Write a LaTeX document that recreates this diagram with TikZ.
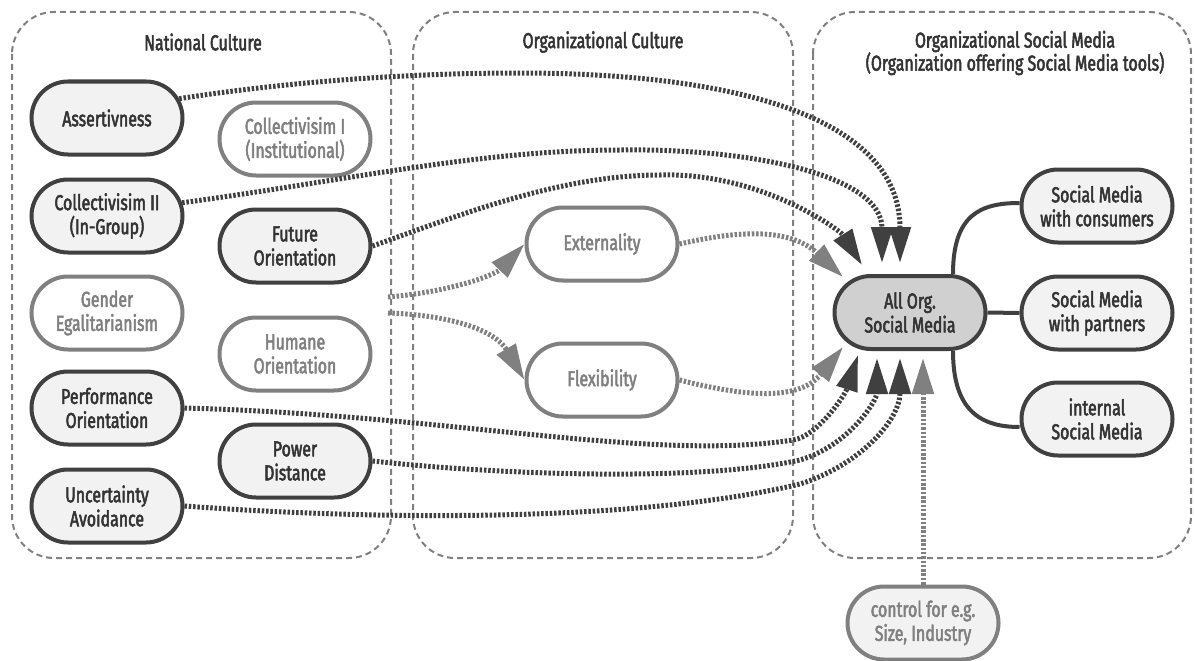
\documentclass[tikz,border=0pt]{standalone}
\usepackage{fontspec}
\setmainfont{Fira Sans}[FakeStretch=0.74,FakeBold=2.4]
\usetikzlibrary{arrows.meta,shapes.misc}
\definecolor{dk}{HTML}{404040}
\definecolor{gr}{HTML}{808080}
\definecolor{lt}{HTML}{F2F2F2}
\definecolor{mid}{HTML}{D0D0D0}
\definecolor{txt}{HTML}{333333}
\tikzset{
  pill/.style={rounded rectangle, line width=4pt, minimum width=151pt, minimum height=73pt,
    inner sep=0pt, align=center, font=\fontsize{21.5}{24}\selectfont},
  darkpill/.style={pill, draw=dk, fill=lt, text=txt},
  graypill/.style={pill, draw=gr, fill=white, text=gr},
  container/.style={draw=gr, line width=2pt, dash pattern=on 6pt off 4pt, rounded corners=42pt},
  ttl/.style={text=txt, align=center, font=\fontsize{21.5}{23}\selectfont},
  dkarrow/.style={draw=dk, line width=5pt, dash pattern=on 2.5pt off 1.8pt,
    -{Triangle[length=36pt,width=21pt]}},
  grarrow/.style={dkarrow, draw=gr},
  solidc/.style={draw=dk, line width=4pt}
}
\begin{document}
\begin{tikzpicture}[x=1pt,y=-1pt]
\useasboundingbox (0,0) rectangle (1194,661);
% containers
\draw[container] (12,12) rectangle (391,558);
\draw[container] (413,12) rectangle (793,558);
\draw[container] (813,12) rectangle (1191,558);
\node[ttl] (t1) at (203,42) {National Culture};
\node[ttl] (t2) at (603,42) {Organizational Culture};
\node[ttl] (t3) at (1015,53) {Organizational Social Media\\(Organization offering Social Media tools)};
% national culture
\node[darkpill] (ass) at (107,118) {Assertivness};
\node[graypill] (col1) at (295,139) {Collectivisim I\\(Institutional)};
\node[darkpill] (col2) at (107,216) {Collectivisim II\\(In-Group)};
\node[darkpill] (fut) at (295,246) {Future\\Orientation};
\node[graypill] (gen) at (107,313) {Gender\\Egalitarianism};
\node[graypill] (hum) at (295,354) {Humane\\Orientation};
\node[darkpill] (perf) at (107,408) {Performance\\Orientation};
\node[darkpill] (pow) at (295,461) {Power\\Distance};
\node[darkpill] (unc) at (107,506) {Uncertainty\\Avoidance};
% org culture
\node[graypill] (ext) at (602,244) {Externality};
\node[graypill] (flex) at (602,380) {Flexibility};
% social media
\node[pill, draw=dk, fill=mid, text=txt] (all) at (910,312.5) {All Org.\\Social Media};
\node[darkpill] (cons) at (1097,206) {Social Media\\with consumers};
\node[darkpill] (part) at (1097,313) {Social Media\\with partners};
\node[darkpill] (int) at (1097,419) {internal\\Social Media};
\node[pill, draw=gr, fill=lt, text=gr] (ctrl) at (923,623) {control for e.g.\\Size, Industry};
% free ends of the national culture block
\coordinate (nc1) at (388,297);
\coordinate (nc2) at (388,313);
% connectors
\draw[dkarrow] (ass.15) .. controls (300,80) and (420,73) .. (520,73)
   .. controls (720,73) and (900,112) .. ([xshift=-10pt,yshift=11pt]all.north);
\draw[dkarrow] (col2.10) .. controls (350,180) and (480,150) .. (620,150)
   .. controls (750,148) and (882,175) .. ([xshift=-28pt,yshift=11pt]all.north);
\draw[dkarrow] (fut.east) .. controls (460,215) and (560,175) .. (660,175)
   .. controls (760,172) and (840,230) .. ([xshift=-48pt,yshift=9pt]all.north);
\draw[grarrow] (nc1) .. controls (450,292) and (495,275) .. (ext.west);
\draw[grarrow] (nc2) .. controls (450,315) and (495,330) .. (flex.west);
\draw[grarrow] (ext.east) .. controls (740,230) and (790,228) .. ([xshift=-67pt,yshift=-3pt]all.north);
\draw[grarrow] (flex.east) .. controls (750,398) and (800,400) .. ([xshift=-67pt,yshift=4pt]all.south);
\draw[dkarrow] (perf.east) .. controls (450,415) and (650,462) .. (793,440)
   .. controls (818,436) and (845,395) .. ([xshift=-52pt,yshift=-4pt]all.south);
\draw[dkarrow] (pow.east) .. controls (500,475) and (700,482) .. (800,460)
   .. controls (850,445) and (877,400) .. ([xshift=-33pt,yshift=-7pt]all.south);
\draw[dkarrow] (unc.east) .. controls (400,522) and (650,520) .. (800,484)
   .. controls (860,465) and (900,420) .. ([xshift=-10pt,yshift=-7pt]all.south);
\draw[grarrow] (ctrl.north) -- ([xshift=13pt,yshift=-7pt]all.south);
% right side
\draw[solidc] ([xshift=43pt]all.north) .. controls (953,215) and (980,203) .. ([yshift=3pt]cons.west);
\draw[solidc] (all.east) -- (part.west);
\draw[solidc] ([xshift=43pt]all.south) .. controls (953,410) and (980,427) .. ([yshift=-8pt]int.west);
\end{tikzpicture}
\end{document}
